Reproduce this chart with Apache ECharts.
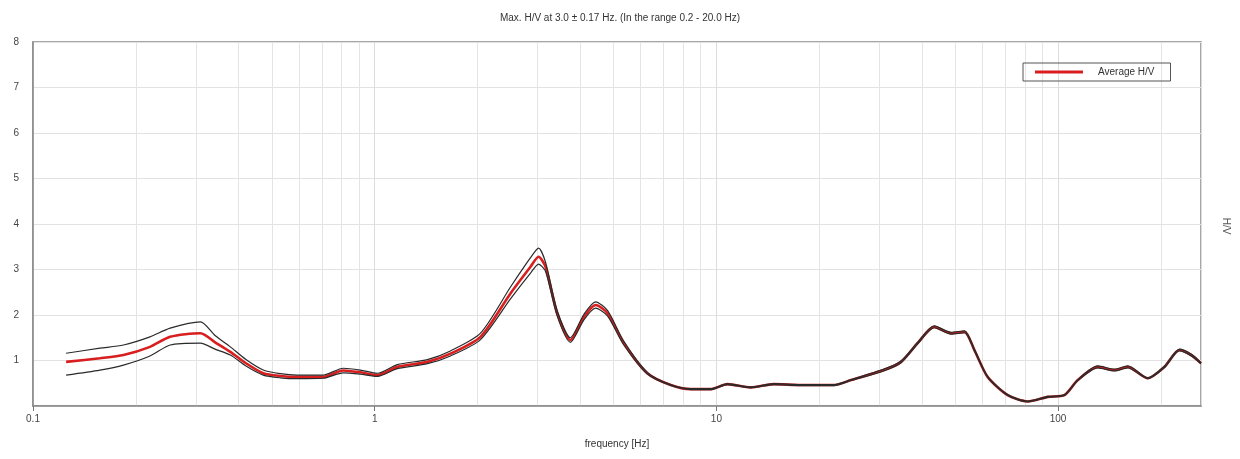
<!DOCTYPE html>
<html>
<head>
<meta charset="utf-8">
<script src="https://cdn.jsdelivr.net/npm/echarts@6/dist/echarts.min.js"></script>
<style>
  html, body { margin: 0; padding: 0; background: #fff; }
  #chart { width: 1240px; height: 459px; }
</style>
</head>
<body>
<div id="chart"></div>
<script>
// H/V spectral ratio
const freq = [0.125, 0.157, 0.184, 0.22, 0.252, 0.309, 0.341, 0.378, 0.42, 0.472, 0.529, 0.593, 0.707, 0.809, 0.908, 1.018, 1.165, 1.427, 1.666, 2.04, 2.5, 2.858, 3.017, 3.162, 3.42, 3.74, 4.1, 4.43, 4.8, 5.36, 6.28, 7.35, 8.41, 9.62, 10.77, 12.6, 14.7, 17.7, 22.1, 24.8, 30.9, 34.7, 38.8, 43.4, 48.6, 53.2, 56.9, 62.2, 71.2, 81.5, 93.3, 104.4, 114.2, 130.7, 146.2, 160, 183, 204.8, 226.6, 245.3, 262]
const avgHV = [0.97, 1.05, 1.12, 1.3, 1.52, 1.6, 1.4, 1.19, 0.94, 0.72, 0.66, 0.64, 0.64, 0.78, 0.74, 0.68, 0.86, 0.97, 1.15, 1.52, 2.48, 3.06, 3.28, 3.06, 2.04, 1.45, 1.96, 2.22, 2.04, 1.38, 0.72, 0.46, 0.37, 0.37, 0.48, 0.41, 0.48, 0.46, 0.46, 0.57, 0.79, 0.97, 1.38, 1.74, 1.6, 1.63, 1.23, 0.64, 0.24, 0.1, 0.2, 0.24, 0.57, 0.86, 0.79, 0.86, 0.61, 0.86, 1.23, 1.12, 0.94]
const upperHV = [1.16, 1.27, 1.34, 1.52, 1.71, 1.85, 1.55, 1.30, 1.02, 0.79, 0.71, 0.68, 0.68, 0.83, 0.79, 0.72, 0.91, 1.02, 1.21, 1.6, 2.62, 3.26, 3.47, 3.16, 2.1, 1.5, 2.02, 2.29, 2.1, 1.42, 0.74, 0.47, 0.38, 0.38, 0.49, 0.42, 0.49, 0.47, 0.47, 0.58, 0.81, 0.99, 1.40, 1.76, 1.62, 1.65, 1.25, 0.65, 0.25, 0.11, 0.21, 0.25, 0.58, 0.88, 0.81, 0.88, 0.62, 0.88, 1.25, 1.14, 0.95]
const lowerHV = [0.68, 0.79, 0.9, 1.1, 1.34, 1.38, 1.25, 1.12, 0.88, 0.68, 0.62, 0.6, 0.61, 0.73, 0.7, 0.65, 0.82, 0.93, 1.1, 1.46, 2.36, 2.92, 3.12, 2.96, 1.98, 1.4, 1.9, 2.15, 1.98, 1.34, 0.7, 0.45, 0.36, 0.36, 0.47, 0.4, 0.47, 0.45, 0.45, 0.56, 0.77, 0.95, 1.36, 1.72, 1.58, 1.61, 1.21, 0.63, 0.23, 0.09, 0.19, 0.23, 0.56, 0.84, 0.77, 0.84, 0.6, 0.84, 1.21, 1.1, 0.93]

// minor log grid lines between the decades
const minorTicks = [0.2, 0.3, 0.4, 0.5, 0.6, 0.7, 0.8, 0.9, 2, 3, 4, 5, 6, 7, 8, 9, 20, 30, 40, 50, 60, 70, 80, 90, 200]

const pairs = (ys) => freq.map((f, i) => [f, ys[i]])

const chart = echarts.init(document.getElementById('chart'))

chart.setOption({
  animation: false,
  textStyle: {
    fontFamily: 'Liberation Sans, Arial, sans-serif'
  },
  title: {
    text: 'Max. H/V at 3.0 ± 0.17 Hz. (In the range 0.2 - 20.0 Hz)',
    left: 'center',
    top: 8,
    textStyle: {
      fontSize: 10,
      fontWeight: 'normal',
      color: '#333'
    }
  },
  legend: {
    data: ['Average H/V'],
    left: 1023,
    top: 63,
    padding: [4, 16, 4, 12],
    borderColor: '#555',
    borderWidth: 1,
    icon: 'rect',
    itemWidth: 48,
    itemHeight: 3,
    textStyle: {
      fontSize: 10,
      color: '#333',
      padding: [0, 0, 0, 10]
    }
  },
  grid: {
    left: 33,
    right: 39,
    top: 42,
    bottom: 53,
    show: true,
    borderColor: '#8a8a8a',
    borderWidth: 1.5
  },
  graphic: [
    {
      type: 'text',
      x: 1226,
      y: 226,
      rotation: -Math.PI / 2,
      style: {
        text: 'H/V',
        fontSize: 10,
        fill: '#555',
        align: 'center',
        verticalAlign: 'middle'
      }
    }
  ],
  xAxis: {
    type: 'log',
    logBase: 10,
    min: 0.1,
    max: 262,
    name: 'frequency [Hz]',
    nameLocation: 'middle',
    nameGap: 33,
    nameTextStyle: {
      fontSize: 10,
      color: '#333'
    },
    axisLine: {
      lineStyle: { color: '#8a8a8a', width: 1.5 }
    },
    axisTick: {
      show: true,
      length: 5,
      lineStyle: { color: '#777' }
    },
    axisLabel: {
      fontSize: 10,
      color: '#444',
      margin: 8,
      showMaxLabel: false,
      formatter: (v) => String(v)
    },
    splitLine: {
      show: true,
      lineStyle: { color: '#dcdcdc' }
    }
  },
  yAxis: {
    type: 'value',
    min: 0,
    max: 8,
    interval: 1,
    axisLine: {
      show: true,
      lineStyle: { color: '#8a8a8a', width: 1.5 }
    },
    axisTick: { show: false },
    axisLabel: {
      fontSize: 10,
      color: '#444',
      margin: 14,
      showMinLabel: false
    },
    splitLine: {
      show: true,
      lineStyle: { color: '#e2e2e2' }
    }
  },
  series: [
    {
      name: 'Average H/V',
      type: 'line',
      data: pairs(avgHV),
      symbol: 'none',
      smooth: 0.25,
      lineStyle: { color: '#d81e1e', width: 2.6 },
      itemStyle: { color: '#d81e1e' },
      z: 2,
      markLine: {
        silent: true,
        symbol: 'none',
        label: { show: false },
        lineStyle: { color: '#e4e4e4', width: 1, type: 'solid' },
        data: minorTicks.map((t) => ({ xAxis: t })),
        z: 0
      }
    },
    {
      name: 'H/V + std',
      type: 'line',
      data: pairs(upperHV),
      symbol: 'none',
      smooth: 0.25,
      lineStyle: { color: '#2a2a2a', width: 1.2 },
      z: 3
    },
    {
      name: 'H/V - std',
      type: 'line',
      data: pairs(lowerHV),
      symbol: 'none',
      smooth: 0.25,
      lineStyle: { color: '#2a2a2a', width: 1.2 },
      z: 3
    }
  ]
})
</script>
</body>
</html>
